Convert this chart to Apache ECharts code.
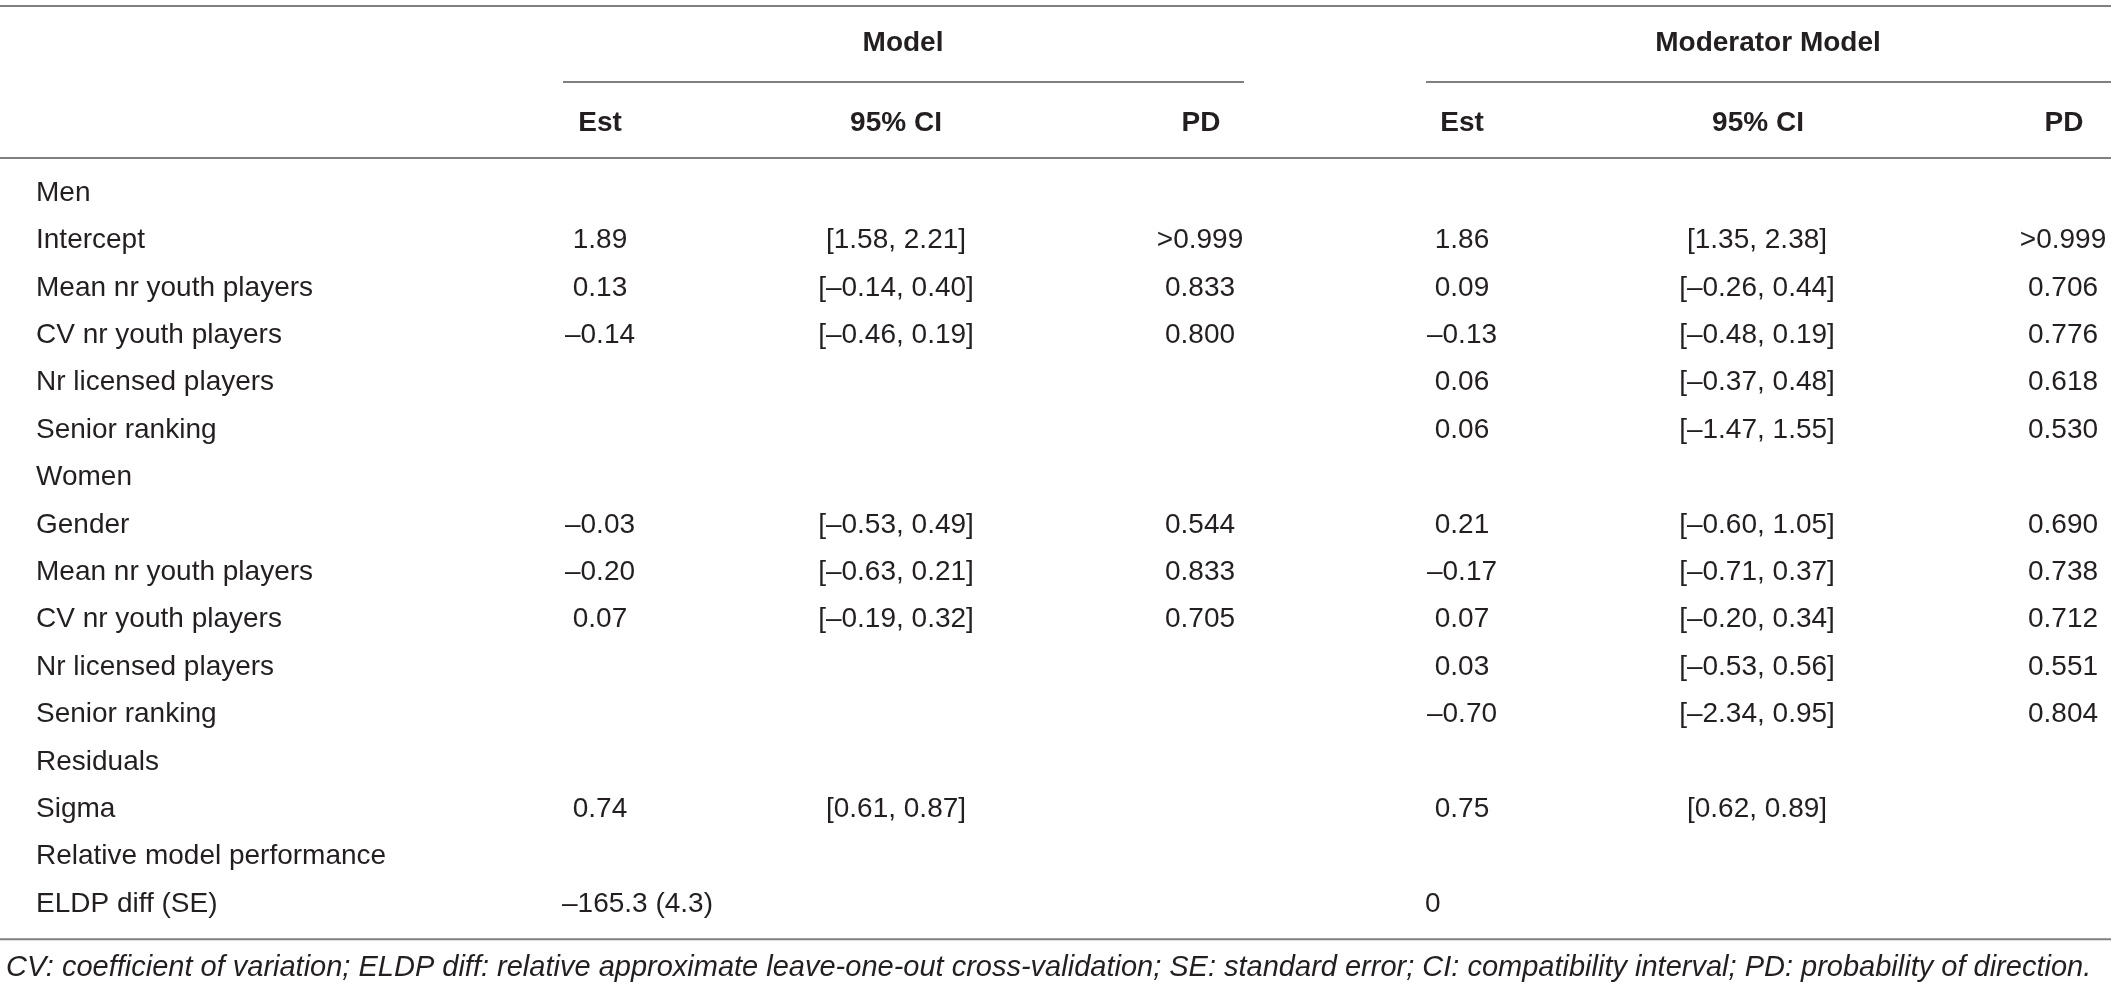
<!DOCTYPE html>
<html>
<head>
<meta charset="utf-8">
<script src="https://cdn.jsdelivr.net/npm/echarts@6.0.0/dist/echarts.min.js"></script>
<style>
	html, body { margin: 0; padding: 0; background: #fff; }
	#table-chart { width: 2117px; height: 988px; }
</style>
</head>
<body>
<div id="table-chart"></div>
<script>
// 表格数据
var rowLabels = ['Men', 'Intercept', 'Mean nr youth players', 'CV nr youth players', 'Nr licensed players', 'Senior ranking',
	'Women', 'Gender', 'Mean nr youth players', 'CV nr youth players', 'Nr licensed players', 'Senior ranking',
	'Residuals', 'Sigma', 'Relative model performance', 'ELDP diff (SE)'];
var modelEst = ['', '1.89', '0.13', '–0.14', '', '', '', '–0.03', '–0.20', '0.07', '', '', '', '0.74', '', '–165.3 (4.3)'];
var modelCI = ['', '[1.58, 2.21]', '[–0.14, 0.40]', '[–0.46, 0.19]', '', '', '', '[–0.53, 0.49]', '[–0.63, 0.21]', '[–0.19, 0.32]', '', '', '', '[0.61, 0.87]', '', ''];
var modelPD = ['', '>0.999', '0.833', '0.800', '', '', '', '0.544', '0.833', '0.705', '', '', '', '', '', ''];
var modEst = ['', '1.86', '0.09', '–0.13', '0.06', '0.06', '', '0.21', '–0.17', '0.07', '0.03', '–0.70', '', '0.75', '', '0'];
var modCI = ['', '[1.35, 2.38]', '[–0.26, 0.44]', '[–0.48, 0.19]', '[–0.37, 0.48]', '[–1.47, 1.55]', '', '[–0.60, 1.05]', '[–0.71, 0.37]', '[–0.20, 0.34]', '[–0.53, 0.56]', '[–2.34, 0.95]', '', '[0.62, 0.89]', '', ''];
var modPD = ['', '>0.999', '0.706', '0.776', '0.618', '0.530', '', '0.690', '0.738', '0.712', '0.551', '0.804', '', '', '', ''];
var groupHeaders = ['Model', 'Moderator Model'];
var colHeaders = ['Est', '95% CI', 'PD'];
var footnote = 'CV: coefficient of variation; ELDP diff: relative approximate leave-one-out cross-validation; SE: standard error; CI: compatibility interval; PD: probability of direction.';

// 布局 (x为像素, y为行号)
var W = 2117;
var RULE_END = 2111;
var FONT = '"Liberation Sans", Arial, sans-serif';
var textColor = '#231f20';
var ruleColor = '#808080';
var labelX = 36;
var groups = [
	{ cols: [600, 896, 1200], estLeft: 562, line: [563, 1244], head: 903, headCols: [600, 896, 1201], data: [modelEst, modelCI, modelPD] },
	{ cols: [1462, 1757, 2063], estLeft: 1425, line: [1426, RULE_END], head: 1768, headCols: [1462, 1758, 2064], data: [modEst, modCI, modPD] }
];
var leftRows = [15]; // ELDP行左对齐
var yGroupHead = -3.16, yGroupLine = -2.342, yColHead = -1.477, yTopRule = -3.945, yHeadRule = -0.738, yBottomRule = 15.743, yNote = 16.35;

var cells = [];
rowLabels.forEach(function(t, i) {
	cells.push({ x: labelX, y: i, text: t, align: 'left', font: '28px ' + FONT });
});
groups.forEach(function(g, gi) {
	cells.push({ x: g.head, y: yGroupHead, text: groupHeaders[gi], align: 'center', font: 'bold 28px ' + FONT });
	colHeaders.forEach(function(h, ci) {
		cells.push({ x: g.headCols[ci], y: yColHead, text: h, align: 'center', font: 'bold 28px ' + FONT });
	});
	g.data.forEach(function(arr, ci) {
		arr.forEach(function(t, i) {
			if (!t) return;
			var left = ci === 0 && leftRows.indexOf(i) >= 0;
			cells.push({ x: left ? g.estLeft : g.cols[ci], y: i, text: t, align: left ? 'left' : 'center', font: '28px ' + FONT });
		});
	});
});
cells.push({ x: 6, y: yNote, text: footnote, align: 'left', font: 'italic 29px ' + FONT });

var rules = [
	[0, RULE_END, yTopRule],
	[groups[0].line[0], groups[0].line[1], yGroupLine],
	[groups[1].line[0], groups[1].line[1], yGroupLine],
	[0, RULE_END, yHeadRule],
	[0, RULE_END, yBottomRule]
];

var chart = echarts.init(document.getElementById('table-chart'));
var option = {
	animation: false,
	grid: { left: 0, right: 0, top: 0, bottom: 0 },
	xAxis: { type: 'value', min: 0, max: W, show: false },
	yAxis: { type: 'value', inverse: true, min: -193 / 47.4, max: (988 - 193) / 47.4, show: false },
	series: [{
		type: 'custom',
		data: rules.map(function(r) { return [r[0], r[2], r[1]]; }),
		renderItem: function(params, api) {
			var p1 = api.coord([api.value(0), api.value(1)]);
			var p2 = api.coord([api.value(2), api.value(1)]);
			return {
				type: 'line',
				shape: { x1: p1[0], y1: p1[1], x2: p2[0], y2: p2[1] },
				style: { stroke: ruleColor, lineWidth: 2 }
			};
		}
	}, {
		type: 'custom',
		data: cells.map(function(c, i) { return [c.x, c.y, i]; }),
		renderItem: function(params, api) {
			var c = cells[api.value(2)];
			var p = api.coord([api.value(0), api.value(1)]);
			return {
				type: 'text',
				x: p[0],
				y: p[1],
				style: {
					text: c.text,
					font: c.font,
					fill: textColor,
					align: c.align,
					verticalAlign: 'middle'
				}
			};
		}
	}]
};
chart.setOption(option);
</script>
</body>
</html>
